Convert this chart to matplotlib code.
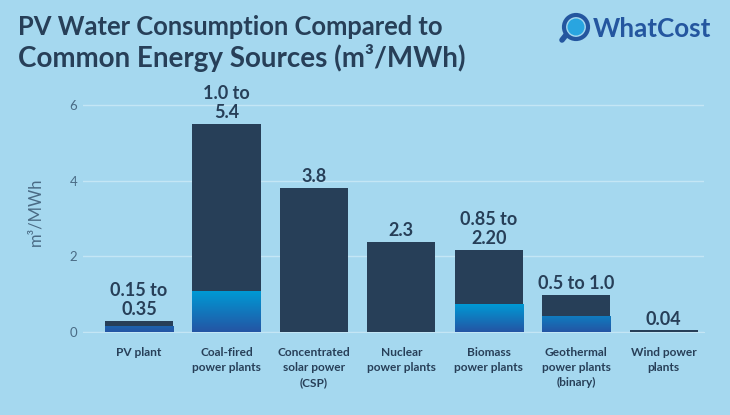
### PV water consumption bars
import numpy as np
import matplotlib.pyplot as plt
from matplotlib.colors import LinearSegmentedColormap
from matplotlib.patches import Circle

plt.rcParams['font.family'] = ['Lato', 'DejaVu Sans']

# Data
categories = ["PV plant", "Coal-fired\npower plants", "Concentrated\nsolar power\n(CSP)",
              "Nuclear\npower plants", "Biomass\npower plants",
              "Geothermal\npower plants\n(binary)", "Wind power\nplants"]
high_values = [0.29, 5.5, 3.8, 2.38, 2.17, 0.98, 0.04]
low_values = [0.15, 1.08, 0, 0, 0.74, 0.42, 0]
value_labels = ["0.15 to\n0.35", "1.0 to\n5.4", "3.8", "2.3", "0.85 to\n2.20", "0.5 to 1.0", "0.04"]
y_ticks = [0, 2, 4, 6]

BG = "#a5d8ef"
DARK = "#273f58"
LOGO = "#24569f"
blues = LinearSegmentedColormap.from_list("blues", ["#2455a4", "#0099d4"])

fig = plt.figure(figsize=(7.3, 4.15), dpi=100, facecolor=BG)
ax = fig.add_axes([83 / 730, (415 - 332) / 415, 621 / 730, 240 / 415], facecolor="none")
ax.set_xlim(-0.64, 6.46)
ax.set_ylim(0, 240 / 37.83)

x = np.arange(len(categories))
ax.bar(x, high_values, width=0.78, color=DARK, zorder=3)

# gradient part of the bars
for xi, low in zip(x, low_values):
    if low > 0:
        top = min(1, low / 0.74)
        grad = np.linspace(top, 0, 64).reshape(-1, 1)
        ax.imshow(grad, cmap=blues, vmin=0, vmax=1, aspect="auto", zorder=4,
                  extent=[xi - 0.39, xi + 0.39, 0, low])
ax.set_xlim(-0.64, 6.46)
ax.set_ylim(0, 240 / 37.83)

for xi, high, label in zip(x, high_values, value_labels):
    ax.annotate(label, (xi, high), xytext=(0, 2), textcoords="offset points", ha="center", va="bottom",
                fontsize=13, fontweight="bold", color=DARK, linespacing=1.15, zorder=5)

ax.grid(axis="y", color="#c4e6f5", linewidth=1, zorder=1)
ax.set_axisbelow(True)
for side in ["top", "right", "left"]:
    ax.spines[side].set_visible(False)
ax.spines["bottom"].set_color("#c4e6f5")

ax.set_yticks(y_ticks)
ax.set_xticks(x)
ax.set_xticklabels(categories, fontsize=8.6, fontweight="bold", color=DARK, linespacing=1.45)
ax.tick_params(axis="x", length=0, pad=11)
ax.tick_params(axis="y", length=0, pad=4, labelsize=9.5, labelcolor="#4a6b85")
ax.set_ylabel("m³/MWh", fontsize=12, color="#4a6b85", labelpad=19)

fig.text(18 / 730, 1 - 27 / 415, "PV Water Consumption Compared to", fontsize=18.4, fontweight="bold",
         color=DARK, va="center")
fig.text(18 / 730, 1 - 58 / 415, "Common Energy Sources (m³/MWh)", fontsize=20, fontweight="bold",
         color=DARK, va="center")

# logo
logo_ax = fig.add_axes([0, 0, 1, 1], facecolor="none")
logo_ax.set_xlim(0, 730)
logo_ax.set_ylim(415, 0)
logo_ax.axis("off")
logo_ax.plot([566, 562], [35, 40], color=LOGO, linewidth=4, solid_capstyle="round")
logo_ax.add_patch(Circle((576, 27), 12, facecolor=BG, edgecolor=LOGO, linewidth=3))
logo_ax.add_patch(Circle((576, 27), 8.5, facecolor="#29a5e0", edgecolor="none"))
logo_ax.text(593, 29, "WhatCost", fontsize=18.7, fontweight="bold", color=LOGO, va="center")

fig.savefig("out.png", dpi=100, facecolor=BG)
